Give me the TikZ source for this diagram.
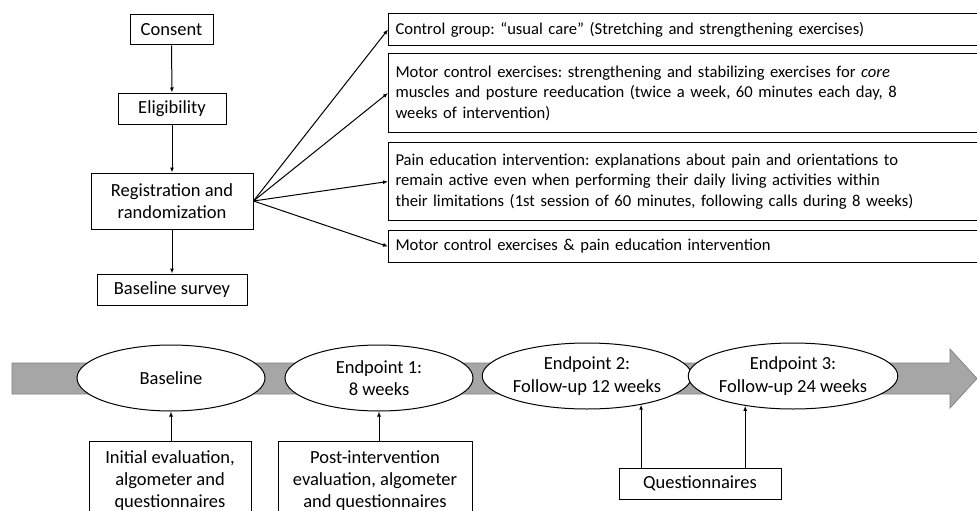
\documentclass[tikz,border=0pt]{standalone}
\usepackage{fontspec}
\setmainfont{Carlito}
\usetikzlibrary{arrows.meta,shapes.geometric}

\begin{document}
\frenchspacing
\begin{tikzpicture}[x=1pt,y=-1pt,
  line width=1pt,
  arr/.style={-{Latex[length=5pt,width=4pt]}},
  flowbox/.style={draw, rectangle, inner sep=0pt, align=center,
    font=\fontsize{18.5}{22}\selectfont},
  armbox/.style={draw, rectangle, anchor=north west, inner xsep=7pt, inner ysep=0pt,
    minimum width=640pt, text width=626pt, align=left,
    font=\fontsize{16.6}{20.5}\selectfont},
  stage/.style={draw, ellipse, fill=white, inner sep=0pt, minimum width=188pt,
    minimum height=66pt, align=center, font=\fontsize{18.5}{22.5}\selectfont},
  band/.style={fill=black!35, draw=black!50, line width=0.7pt}]
\useasboundingbox (0,0) rectangle (977,511);
\clip (0,0) rectangle (977,511);

% enrolment flow
\node[flowbox, minimum width=83pt, minimum height=30pt] (consent) at (171.5,30) {Consent};
\node[flowbox, minimum width=108pt, minimum height=31pt] (elig) at (172,108.5) {Eligibility};
\node[flowbox, minimum width=162pt, minimum height=56pt] (reg) at (172,201) {Registration and\\randomization};
\node[flowbox, minimum width=150pt, minimum height=31pt] (survey) at (172,289.5) {Baseline survey};

\draw[arr] (consent) -- (elig);
\draw[arr] (elig) -- (reg);
\draw[arr] (reg) -- (survey);

% study arms
\node[armbox, minimum height=32pt] (g1) at (388,13)
  {Control group: “usual care” (Stretching and strengthening exercises)};
\node[armbox, minimum height=79pt] (g2) at (388,53)
  {Motor control exercises: strengthening and stabilizing exercises for \emph{core}\\
   muscles and posture reeducation (twice a week, 60 minutes each day, 8\\
   weeks of intervention)};
\node[armbox, minimum height=78pt] (g3) at (388,142)
  {Pain education intervention: explanations about pain and orientations to\\
   remain active even when performing their daily living activities within\\
   their limitations (1st session of 60 minutes, following calls during 8 weeks)};
\node[armbox, minimum height=32pt] (g4) at (388,230)
  {Motor control exercises \& pain education intervention};

\foreach \g in {g1,g2,g3,g4}
  \draw[arr] (reg.east) -- (\g.west);

% timeline
\draw[band] (12,363) -- (950,363) -- (950,349) -- (977,378.5) -- (950,408)
  -- (950,394) -- (12,394) -- cycle;

\node[stage] (base) at (171,378) {Baseline};
\node[stage] (e1) at (379,378) {Endpoint 1:\\8 weeks};
\node[stage] (e2) at (587,376) {Endpoint 2:\\Follow-up 12 weeks};
\node[stage] (e3) at (793,376) {Endpoint 3:\\Follow-up 24 weeks};

% assessments
\node[flowbox, anchor=north, minimum width=162pt, minimum height=78pt] (init) at (170,441)
  {Initial evaluation,\\algometer and\\questionnaires};
\node[flowbox, anchor=north, minimum width=194pt, minimum height=78pt] (post) at (375,441)
  {Post-intervention\\evaluation, algometer\\and questionnaires};
\node[flowbox, minimum width=162pt, minimum height=31pt] (quest) at (700,483.5)
  {Questionnaires};

\draw[arr] (base.south |- init.north) -- (base.south);
\draw[arr] (e1.south |- post.north) -- (e1.south);
\draw[arr] (e2.-28 |- quest.north) -- (e2.-28);
\draw[arr] (e3.-148 |- quest.north) -- (e3.-148);
\end{tikzpicture}
\end{document}
